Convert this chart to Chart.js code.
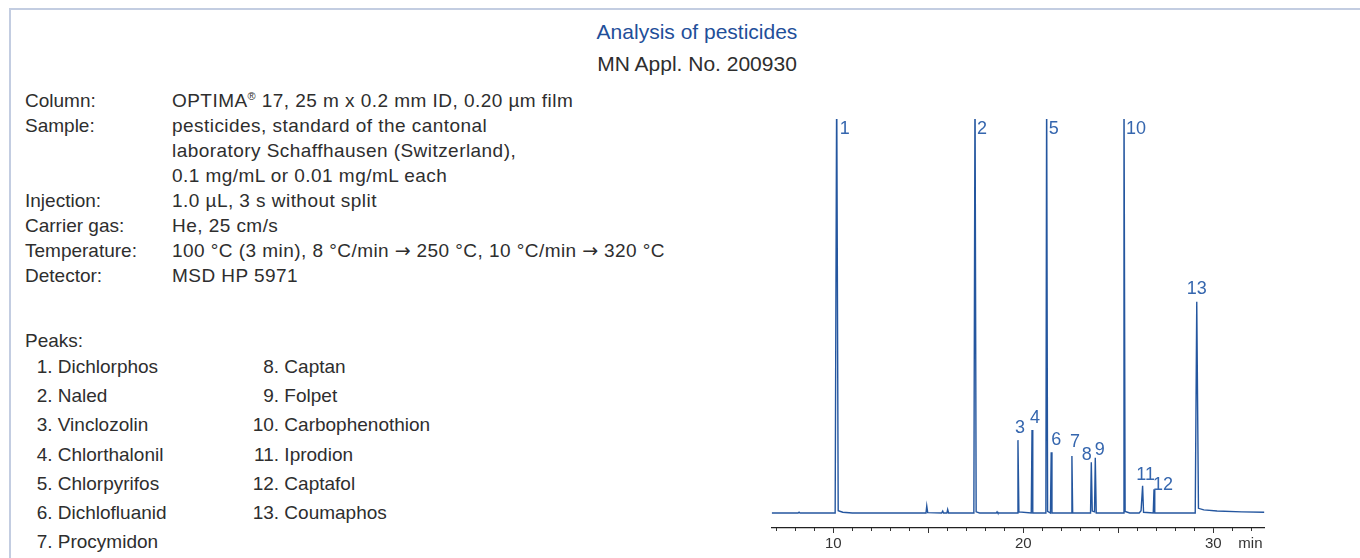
<!DOCTYPE html>
<html>
<head>
<meta charset="utf-8">
<title>Analysis of pesticides</title>
<script src="https://cdn.jsdelivr.net/npm/chart.js@4.4.1/dist/chart.umd.min.js"></script>
<style>
  body {
    margin: 0;
    width: 1360px;
    height: 558px;
    overflow: hidden;
    background: #fff;
    position: relative;
    font-family: "Liberation Sans", Arial, sans-serif;
    color: #2e2e2e;
  }
  .frame {
    position: absolute;
    left: 9px;
    top: 8px;
    width: 1400px;
    height: 600px;
    border-left: 2px solid #c3cde1;
    border-top: 2px solid #c3cde1;
  }
  .head {
    position: absolute;
    left: 447px;
    width: 500px;
    text-align: center;
    font-size: 21px;
    line-height: 25px;
  }
  .blue { color: #1f4f9a; }
  .block {
    position: absolute;
    font-size: 19px;
    line-height: 25px;
    white-space: nowrap;
  }
  .vals { letter-spacing: 0.45px; }
  .arrow { font-family: "DejaVu Sans", sans-serif; font-size: 19px; letter-spacing: 0; }
  .peaks {
    position: absolute;
    font-size: 19px;
    line-height: 29.2px;
    white-space: nowrap;
  }
  .peaks .n {
    display: inline-block;
    width: 28px;
    text-align: right;
  }
  #chartBox {
    position: absolute;
    left: 760px;
    top: 100px;
    width: 520px;
    height: 458px;
  }
</style>
</head>
<body>
<div class="frame"></div>

<div class="head blue" style="top:19px">Analysis of pesticides</div>
<div class="head" style="top:51px">MN Appl. No. 200930</div>

<div class="block" style="left:25px; top:88px">
  Column:<br>Sample:<br><br><br>Injection:<br>Carrier gas:<br>Temperature:<br>Detector:
</div>
<div class="block vals" style="left:172px; top:88px">
  OPTIMA<sup style="font-size:11px; line-height:0">®</sup> 17, 25 m x 0.2 mm ID, 0.20 µm film<br>
  pesticides, standard of the cantonal<br>
  laboratory Schaffhausen (Switzerland),<br>
  0.1 mg/mL or 0.01 mg/mL each<br>
  1.0 µL, 3 s without split<br>
  He, 25 cm/s<br>
  100 °C (3 min), 8 °C/min <span class="arrow">→</span> 250 °C, 10 °C/min <span class="arrow">→</span> 320 °C<br>
  MSD HP 5971
</div>

<div class="peaks" style="left:25px; top:326px">Peaks:</div>
<div class="peaks" id="peakCol1" style="left:24.5px; top:352px"></div>
<div class="peaks" id="peakCol2" style="left:251.1px; top:352px"></div>

<div id="chartBox"><canvas id="myChart" width="520" height="458"></canvas></div>

<script>
// chromatogram trace (time in min, signal in % of full scale)
const traceTime = [
  6.76, 8.15, 8.2, 8.25, 10.1, 10.18, 10.26, 10.5, 11.0,
  14.88, 14.92, 14.97, 15.7, 15.76, 15.8, 15.98, 16.02, 16.07,
  17.4, 17.46, 17.52, 17.7, 18.58, 18.62, 18.66,
  19.68, 19.72, 19.77, 20.42, 20.46, 20.5,
  21.19, 21.23, 21.28, 21.43, 21.47, 21.51,
  22.52, 22.56, 22.6, 23.54, 23.58, 23.63, 23.75, 23.79, 23.84,
  25.26, 25.3, 25.36, 25.6, 26.1, 26.2, 26.28, 26.33,
  26.84, 26.88, 26.92,
  29.05, 29.13, 29.22, 29.5, 30.2, 31.5, 32.69
];
const traceSignal = [
  0, 0, 0.2, 0, 0, 110, 0.6, 0.2, 0,
  0, 1.8, 0.1, 0, 0.5, 0, 0, 0.9, 0,
  0, 110, 0.3, 0, 0, 0.3, 0,
  0, 18.5, 0.3, 0, 21.1, 0,
  0, 110, 0.4, 0, 15.4, 0,
  0, 14.5, 0, 0, 12.9, 0.5, 0.3, 14.0, 0,
  0, 110, 0.4, 0, 0, 0.6, 6.9, 0.2,
  0, 6.0, 0,
  0, 53.6, 1.2, 0.8, 0.5, 0.3, 0.2
];

// peak numbering
const peakNumbers = ["1", "2", "3", "4", "5", "6", "7", "8", "9", "10", "11", "12", "13"];
const peakTimes = [10.18, 17.46, 19.72, 20.46, 21.23, 21.47, 22.56, 23.58, 23.79, 25.3, 26.28, 26.88, 29.13];
const peakHeights = [110, 110, 18.5, 21.1, 110, 15.4, 14.5, 12.9, 14.0, 110, 6.9, 6.0, 53.6];
const peakNames = [
  "Dichlorphos", "Naled", "Vinclozolin", "Chlorthalonil", "Chlorpyrifos",
  "Dichlofluanid", "Procymidon", "Captan", "Folpet", "Carbophenothion",
  "Iprodion", "Captafol", "Coumaphos"
];

// axis
const tickLabels = [10, 20, 30];

// peak list on the left
peakNames.forEach((name, i) => {
  const row = document.createElement("div");
  row.innerHTML = '<span class="n">' + peakNumbers[i] + '.</span> ' + name;
  document.getElementById(i < 7 ? "peakCol1" : "peakCol2").appendChild(row);
});

const FONT = '"Liberation Sans", Arial, sans-serif';

const peakLabels = {
  id: "peakLabels",
  afterDatasetsDraw(chart, args, opts) {
    const { ctx, chartArea } = chart;
    const x = chart.scales.x, y = chart.scales.y;
    ctx.save();
    ctx.fillStyle = opts.color;
    ctx.font = "18px " + FONT;
    ctx.textBaseline = "alphabetic";
    peakNumbers.forEach((n, i) => {
      const off = opts.offsets[n];
      const px = x.getPixelForValue(peakTimes[i]);
      if (peakHeights[i] > y.max) {
        ctx.textAlign = "left";
        ctx.fillText(n, px + off[0], chartArea.top + off[1]);
      } else {
        ctx.textAlign = "center";
        ctx.fillText(n, px + off[0], y.getPixelForValue(peakHeights[i]) + off[1]);
      }
    });
    ctx.restore();
  }
};

const minorTicks = {
  id: "minorTicks",
  afterDraw(chart) {
    const s = chart.scales.x, ctx = chart.ctx;
    ctx.save();
    ctx.strokeStyle = "#333";
    ctx.lineWidth = 1;
    s.ticks.forEach(t => {
      if (Math.round(t.value) % 5 === 0) return;
      const px = Math.round(s.getPixelForValue(t.value)) + 0.5;
      ctx.beginPath();
      ctx.moveTo(px, s.top);
      ctx.lineTo(px, s.top + 3);
      ctx.stroke();
    });
    ctx.fillStyle = "#333";
    ctx.font = "15px " + FONT;
    ctx.textAlign = "center";
    ctx.textBaseline = "middle";
    ctx.fillText("min", s.right - 14, s.top + 16);
    ctx.restore();
  }
};

const ctx = document.getElementById("myChart").getContext("2d");
new Chart(ctx, {
  type: "line",
  data: {
    datasets: [{
      data: traceTime.map((t, i) => ({ x: t, y: traceSignal[i] })),
      borderColor: "#24569f",
      borderWidth: 1.4,
      pointRadius: 0,
      tension: 0,
      fill: false
    }]
  },
  options: {
    responsive: false,
    animation: false,
    devicePixelRatio: 1,
    layout: { padding: { left: 11.7, right: 15.6, top: 19, bottom: 0 } },
    plugins: {
      legend: { display: false },
      tooltip: { enabled: false },
      peakLabels: {
        color: "#3566ae",
        offsets: {
          "1": [3, 15], "2": [2, 15], "5": [2, 15], "10": [2, 15],
          "3": [2, -7], "4": [3, -7], "6": [5, -7], "7": [3, -9],
          "8": [-4.5, -2], "9": [4.5, -3], "11": [3, -6], "12": [9, 1],
          "13": [0, -7.5]
        }
      }
    },
    scales: {
      x: {
        type: "linear",
        min: 6.76,
        max: 32.69,
        afterFit: s => { s.height = 30; },
        border: { color: "#222", width: 1.2 },
        grid: {
          drawOnChartArea: false,
          tickLength: 5,
          tickWidth: 1,
          tickColor: c => (Math.round(c.tick.value) % 5 === 0 ? "#333" : "rgba(0,0,0,0)")
        },
        ticks: {
          stepSize: 1,
          includeBounds: false,
          autoSkip: false,
          maxRotation: 0,
          padding: 2,
          color: "#333",
          font: { size: 15, family: FONT },
          callback: v => (tickLabels.includes(Math.round(v)) && Math.abs(v - Math.round(v)) < 1e-6 ? String(Math.round(v)) : "")
        }
      },
      y: {
        display: false,
        min: -3.8,
        max: 100
      }
    }
  },
  plugins: [peakLabels, minorTicks]
});
</script>
</body>
</html>
